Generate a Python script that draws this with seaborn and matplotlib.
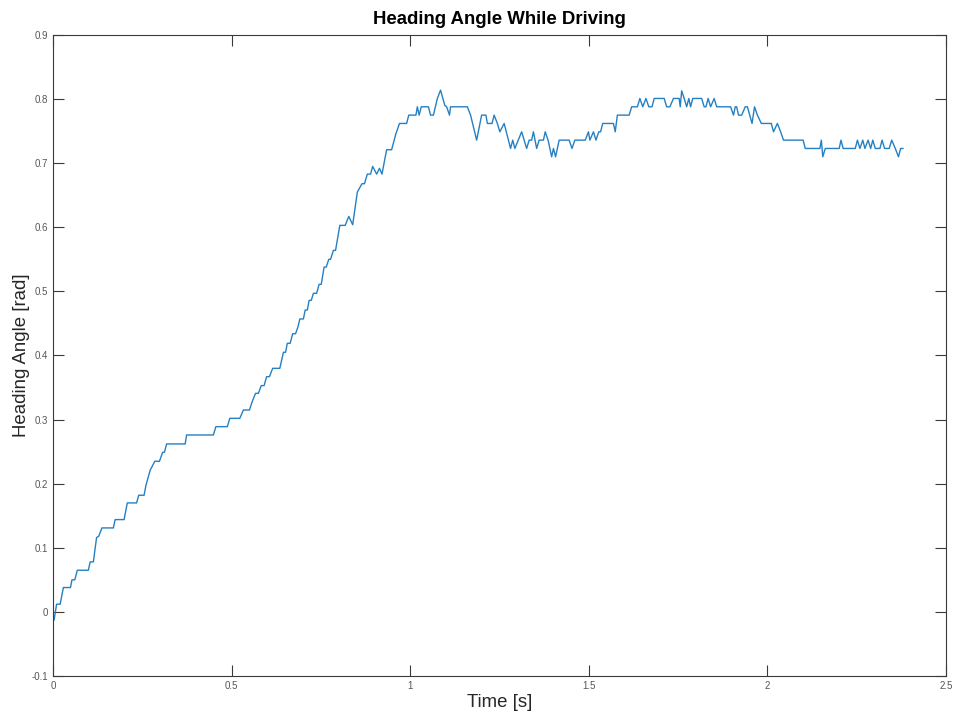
import numpy as np
import pandas as pd
import matplotlib
matplotlib.use('Agg')
import matplotlib.pyplot as plt
from matplotlib.ticker import FuncFormatter, MultipleLocator
import seaborn as sns

# Heading angle samples (time in s, angle in rad)
temps = [
    0.003, 0.010, 0.020, 0.029, 0.049, 0.053, 0.061, 0.068, 0.099, 0.104,
    0.113, 0.122, 0.128, 0.137, 0.169, 0.174, 0.199, 0.208, 0.234, 0.240,
    0.255, 0.260, 0.272, 0.285, 0.298, 0.307, 0.312, 0.318, 0.370, 0.374,
    0.449, 0.456, 0.488, 0.495, 0.523, 0.533, 0.550, 0.557, 0.567, 0.575,
    0.583, 0.591, 0.598, 0.606, 0.615, 0.635, 0.645, 0.651, 0.656, 0.664,
    0.671, 0.679, 0.686, 0.691, 0.701, 0.706, 0.712, 0.717, 0.723, 0.729,
    0.738, 0.745, 0.751, 0.759, 0.765, 0.772, 0.777, 0.785, 0.791, 0.803,
    0.818, 0.828, 0.839, 0.852, 0.865, 0.872, 0.880, 0.889, 0.895, 0.906,
    0.914, 0.921, 0.934, 0.948, 0.960, 0.970, 0.990, 0.996, 1.016, 1.020,
    1.025, 1.031, 1.051, 1.057, 1.065, 1.076, 1.085, 1.097, 1.102, 1.110,
    1.113, 1.160, 1.169, 1.186, 1.200, 1.212, 1.216, 1.229, 1.235, 1.244,
    1.251, 1.263, 1.281, 1.287, 1.293, 1.312, 1.326, 1.333, 1.340, 1.345,
    1.354, 1.361, 1.373, 1.378, 1.386, 1.396, 1.401, 1.407, 1.417, 1.445,
    1.453, 1.461, 1.490, 1.499, 1.503, 1.513, 1.520, 1.528, 1.533, 1.539,
    1.569, 1.574, 1.580, 1.613, 1.620, 1.636, 1.643, 1.651, 1.660, 1.668,
    1.677, 1.683, 1.711, 1.718, 1.727, 1.737, 1.753, 1.756, 1.760, 1.767,
    1.774, 1.780, 1.785, 1.791, 1.816, 1.823, 1.828, 1.834, 1.841, 1.851,
    1.858, 1.897, 1.905, 1.910, 1.914, 1.919, 1.928, 1.938, 1.944, 1.957,
    1.964, 1.972, 1.983, 2.011, 2.017, 2.028, 2.037, 2.045, 2.100, 2.106,
    2.147, 2.151, 2.155, 2.162, 2.201, 2.206, 2.212, 2.246, 2.252, 2.259,
    2.267, 2.273, 2.282, 2.289, 2.295, 2.302, 2.315, 2.321, 2.328, 2.341,
    2.348, 2.358, 2.367, 2.373, 2.380,
]
angle = [
    -0.013, 0.012, 0.012, 0.038, 0.038, 0.050, 0.050, 0.065, 0.065, 0.078,
    0.078, 0.116, 0.118, 0.131, 0.131, 0.144, 0.144, 0.170, 0.170, 0.182,
    0.182, 0.197, 0.221, 0.235, 0.235, 0.249, 0.249, 0.262, 0.262, 0.276,
    0.276, 0.289, 0.289, 0.302, 0.302, 0.315, 0.315, 0.327, 0.341, 0.341,
    0.353, 0.353, 0.367, 0.367, 0.380, 0.380, 0.405, 0.405, 0.419, 0.419,
    0.434, 0.434, 0.445, 0.457, 0.457, 0.471, 0.471, 0.486, 0.486, 0.497,
    0.497, 0.511, 0.511, 0.538, 0.538, 0.550, 0.550, 0.564, 0.564, 0.603,
    0.603, 0.617, 0.604, 0.655, 0.668, 0.668, 0.683, 0.683, 0.695, 0.683,
    0.692, 0.683, 0.721, 0.721, 0.746, 0.762, 0.762, 0.775, 0.775, 0.788,
    0.775, 0.788, 0.788, 0.775, 0.775, 0.801, 0.814, 0.790, 0.788, 0.775,
    0.788, 0.788, 0.775, 0.736, 0.775, 0.775, 0.762, 0.762, 0.775, 0.762,
    0.749, 0.762, 0.723, 0.736, 0.723, 0.749, 0.723, 0.736, 0.736, 0.749,
    0.723, 0.736, 0.736, 0.749, 0.736, 0.710, 0.723, 0.710, 0.736, 0.736,
    0.723, 0.736, 0.736, 0.749, 0.736, 0.749, 0.736, 0.749, 0.749, 0.762,
    0.762, 0.749, 0.775, 0.775, 0.788, 0.788, 0.801, 0.788, 0.801, 0.788,
    0.788, 0.801, 0.801, 0.788, 0.788, 0.801, 0.801, 0.788, 0.813, 0.801,
    0.788, 0.801, 0.788, 0.801, 0.801, 0.788, 0.788, 0.801, 0.788, 0.801,
    0.788, 0.788, 0.775, 0.788, 0.788, 0.775, 0.775, 0.788, 0.788, 0.762,
    0.788, 0.775, 0.762, 0.762, 0.749, 0.762, 0.749, 0.736, 0.736, 0.723,
    0.723, 0.736, 0.710, 0.723, 0.723, 0.736, 0.723, 0.723, 0.736, 0.723,
    0.736, 0.723, 0.736, 0.723, 0.736, 0.723, 0.723, 0.736, 0.723, 0.723,
    0.736, 0.723, 0.710, 0.723, 0.723,
]

COULEUR_LIGNE = '#2580c3'
GRIS_AXES = '#3a3a3a'

sns.set_theme(style='ticks')
plt.rcParams['font.family'] = ['Liberation Sans', 'DejaVu Sans']

df = pd.DataFrame({'temps': temps, 'angle': angle})

fig = plt.figure(figsize=(9.56, 7.13), dpi=100, facecolor='white')
ax = fig.add_axes([53 / 956, 37 / 713, 893 / 956, 641 / 713])

sns.lineplot(data=df, x='temps', y='angle', ax=ax, estimator=None, sort=False,
             color=COULEUR_LIGNE, linewidth=1.0)

ax.set_xlim(0, 2.5)
ax.set_ylim(-0.1, 0.9)
ax.xaxis.set_major_locator(MultipleLocator(0.5))
ax.yaxis.set_major_locator(MultipleLocator(0.1))
fmt = FuncFormatter(lambda v, p: f'{v:g}' if abs(v) > 1e-9 else '0')
ax.xaxis.set_major_formatter(fmt)
ax.yaxis.set_major_formatter(fmt)

ax.tick_params(direction='in', length=8, width=0.8, colors=GRIS_AXES,
               labelsize=7, top=True, right=True, labelcolor='#555555')
for s in ax.spines.values():
    s.set_visible(True)
    s.set_color(GRIS_AXES)
    s.set_linewidth(0.8)

ax.set_title('Heading Angle While Driving', fontsize=13.4, fontweight='bold',
             color='black', pad=8)
ax.set_xlabel('Time [s]', fontsize=13.4, color='#262626', labelpad=2)
ax.set_ylabel('Heading Angle [rad]', fontsize=13.4, color='#262626', labelpad=1)

fig.savefig('out.png', dpi=100, facecolor='white')
plt.close(fig)
